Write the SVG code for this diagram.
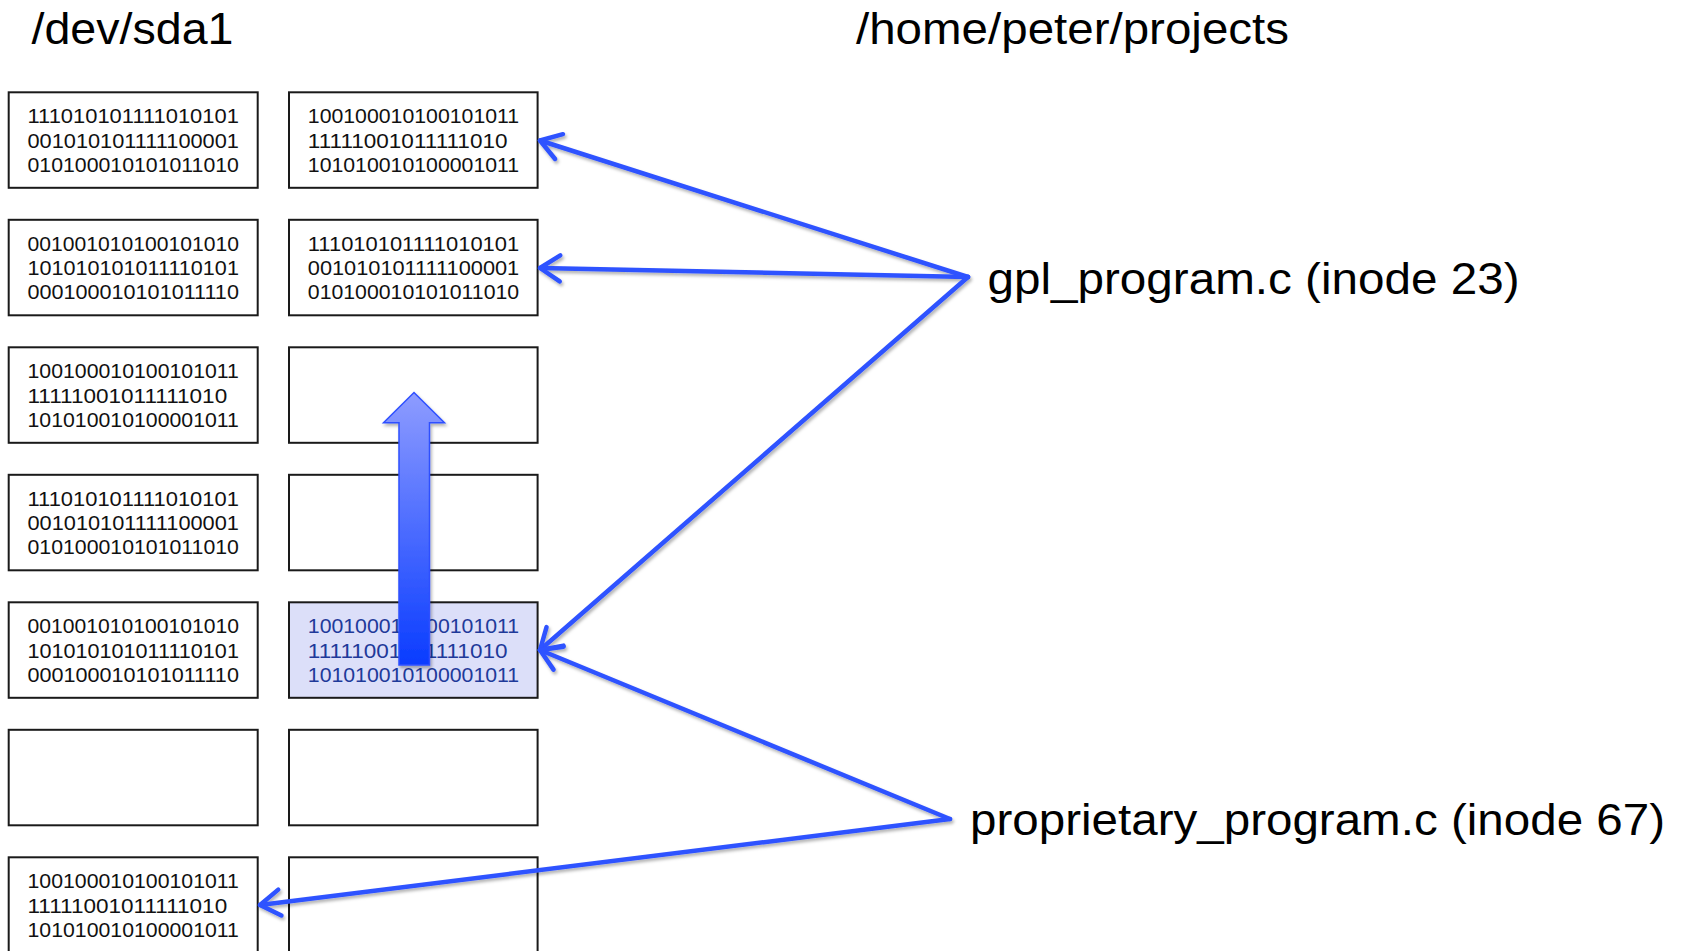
<svg xmlns="http://www.w3.org/2000/svg" width="1685" height="951" viewBox="0 0 1685 951">
  <style>
    .blk { fill: #ffffff; stroke: #1a1a1a; stroke-width: 2; }
    .blk.hot { fill: #dcdff9; }
    .bits { font-family: "Liberation Sans", Arial, sans-serif; font-size: 20.3px; fill: #111111; }
    .bits.hot { fill: #1f3a9a; }
    .title { font-family: "Liberation Sans", Arial, sans-serif; font-size: 44px; fill: #000000; }
    .link { fill: none; stroke: #2f52ff; stroke-width: 4.5; stroke-linecap: round; stroke-linejoin: round; }
  </style>
  <defs>
    <marker id="chevron" markerUnits="userSpaceOnUse" viewBox="-30 -20 40 40" refX="0" refY="0" markerWidth="40" markerHeight="40" orient="auto" overflow="visible">
      <path d="M -20,-13 L 0,0 L -20,13" fill="none" stroke="#2f52ff" stroke-width="4.5" stroke-linecap="round" stroke-linejoin="round"/>
    </marker>
    <filter id="shade" x="-10%" y="-10%" width="130%" height="130%">
      <feDropShadow dx="1.5" dy="2.5" stdDeviation="1.6" flood-color="#000000" flood-opacity="0.3"/>
    </filter>
    <linearGradient id="moveFill" x1="0" y1="0" x2="0" y2="1">
      <stop offset="0" stop-color="#8e9cff"/>
      <stop offset="1" stop-color="#0a3cff"/>
    </linearGradient>
  </defs>

  <rect width="1685" height="951" fill="#ffffff"/>

  <!-- headings -->
  <text class="title" x="31.5" y="44" textLength="202" lengthAdjust="spacingAndGlyphs">/dev/sda1</text>
  <text class="title" x="856" y="44" textLength="433" lengthAdjust="spacingAndGlyphs">/home/peter/projects</text>

  <!-- disk blocks: two columns, seven rows (pitch 127.5); 18-digit lines 211.4 wide, 17-digit 199.7 -->
  <g id="blk-r1-l">
    <rect class="blk" x="8.7" y="92.3" width="249" height="95.5"/>
    <text class="bits" x="27.5" y="123.3" textLength="211.4" lengthAdjust="spacingAndGlyphs">111010101111010101</text>
    <text class="bits" x="27.5" y="147.5" textLength="211.4" lengthAdjust="spacingAndGlyphs">001010101111100001</text>
    <text class="bits" x="27.5" y="171.7" textLength="211.4" lengthAdjust="spacingAndGlyphs">010100010101011010</text>
  </g>
  <g id="blk-r1-r">
    <rect class="blk" x="289" y="92.3" width="248.6" height="95.5"/>
    <text class="bits" x="307.8" y="123.3" textLength="211.4" lengthAdjust="spacingAndGlyphs">100100010100101011</text>
    <text class="bits" x="307.8" y="147.5" textLength="199.7" lengthAdjust="spacingAndGlyphs">11111001011111010</text>
    <text class="bits" x="307.8" y="171.7" textLength="211.4" lengthAdjust="spacingAndGlyphs">101010010100001011</text>
  </g>

  <g id="blk-r2-l">
    <rect class="blk" x="8.7" y="219.8" width="249" height="95.5"/>
    <text class="bits" x="27.5" y="250.8" textLength="211.4" lengthAdjust="spacingAndGlyphs">001001010100101010</text>
    <text class="bits" x="27.5" y="275" textLength="211.4" lengthAdjust="spacingAndGlyphs">101010101011110101</text>
    <text class="bits" x="27.5" y="299.2" textLength="211.4" lengthAdjust="spacingAndGlyphs">000100010101011110</text>
  </g>
  <g id="blk-r2-r">
    <rect class="blk" x="289" y="219.8" width="248.6" height="95.5"/>
    <text class="bits" x="307.8" y="250.8" textLength="211.4" lengthAdjust="spacingAndGlyphs">111010101111010101</text>
    <text class="bits" x="307.8" y="275" textLength="211.4" lengthAdjust="spacingAndGlyphs">001010101111100001</text>
    <text class="bits" x="307.8" y="299.2" textLength="211.4" lengthAdjust="spacingAndGlyphs">010100010101011010</text>
  </g>

  <g id="blk-r3-l">
    <rect class="blk" x="8.7" y="347.3" width="249" height="95.5"/>
    <text class="bits" x="27.5" y="378.3" textLength="211.4" lengthAdjust="spacingAndGlyphs">100100010100101011</text>
    <text class="bits" x="27.5" y="402.5" textLength="199.7" lengthAdjust="spacingAndGlyphs">11111001011111010</text>
    <text class="bits" x="27.5" y="426.7" textLength="211.4" lengthAdjust="spacingAndGlyphs">101010010100001011</text>
  </g>
  <g id="blk-r3-r">
    <rect class="blk" x="289" y="347.3" width="248.6" height="95.5"/>
  </g>

  <g id="blk-r4-l">
    <rect class="blk" x="8.7" y="474.8" width="249" height="95.5"/>
    <text class="bits" x="27.5" y="505.8" textLength="211.4" lengthAdjust="spacingAndGlyphs">111010101111010101</text>
    <text class="bits" x="27.5" y="530" textLength="211.4" lengthAdjust="spacingAndGlyphs">001010101111100001</text>
    <text class="bits" x="27.5" y="554.2" textLength="211.4" lengthAdjust="spacingAndGlyphs">010100010101011010</text>
  </g>
  <g id="blk-r4-r">
    <rect class="blk" x="289" y="474.8" width="248.6" height="95.5"/>
  </g>

  <g id="blk-r5-l">
    <rect class="blk" x="8.7" y="602.3" width="249" height="95.5"/>
    <text class="bits" x="27.5" y="633.3" textLength="211.4" lengthAdjust="spacingAndGlyphs">001001010100101010</text>
    <text class="bits" x="27.5" y="657.5" textLength="211.4" lengthAdjust="spacingAndGlyphs">101010101011110101</text>
    <text class="bits" x="27.5" y="681.7" textLength="211.4" lengthAdjust="spacingAndGlyphs">000100010101011110</text>
  </g>
  <g id="blk-r5-r">
    <rect class="blk hot" x="289" y="602.3" width="248.6" height="95.5"/>
    <text class="bits hot" x="307.8" y="633.3" textLength="211.4" lengthAdjust="spacingAndGlyphs">100100010100101011</text>
    <text class="bits hot" x="307.8" y="657.5" textLength="199.7" lengthAdjust="spacingAndGlyphs">11111001011111010</text>
    <text class="bits hot" x="307.8" y="681.7" textLength="211.4" lengthAdjust="spacingAndGlyphs">101010010100001011</text>
  </g>

  <g id="blk-r6-l">
    <rect class="blk" x="8.7" y="729.8" width="249" height="95.5"/>
  </g>
  <g id="blk-r6-r">
    <rect class="blk" x="289" y="729.8" width="248.6" height="95.5"/>
  </g>

  <g id="blk-r7-l">
    <rect class="blk" x="8.7" y="857.3" width="249" height="95.5"/>
    <text class="bits" x="27.5" y="888.3" textLength="211.4" lengthAdjust="spacingAndGlyphs">100100010100101011</text>
    <text class="bits" x="27.5" y="912.5" textLength="199.7" lengthAdjust="spacingAndGlyphs">11111001011111010</text>
    <text class="bits" x="27.5" y="936.7" textLength="211.4" lengthAdjust="spacingAndGlyphs">101010010100001011</text>
  </g>
  <g id="blk-r7-r">
    <rect class="blk" x="289" y="857.3" width="248.6" height="95.5"/>
  </g>

  <!-- block relocation arrow -->
  <g id="move-arrow" filter="url(#shade)">
    <polygon points="414,392.5 444.5,422.7 429.5,422.7 429.5,665 399,665 399,422.7 383.5,422.7"
             fill="url(#moveFill)" stroke="#2f50ff" stroke-width="1.5" stroke-linejoin="miter"/>
  </g>

  <!-- file labels -->
  <g id="file-gpl">
    <text class="title" x="987.5" y="293.5" textLength="532" lengthAdjust="spacingAndGlyphs">gpl_program.c (inode 23)</text>
  </g>
  <g id="file-proprietary">
    <text class="title" x="970" y="835" textLength="695" lengthAdjust="spacingAndGlyphs">proprietary_program.c (inode 67)</text>
  </g>

  <!-- inode block pointers -->
  <g id="connectors" filter="url(#shade)">
    <line class="link" x1="968" y1="277" x2="540" y2="140.5" marker-end="url(#chevron)"/>
    <line class="link" x1="968" y1="277" x2="540" y2="268" marker-end="url(#chevron)"/>
    <line class="link" x1="968" y1="277" x2="540" y2="650" marker-end="url(#chevron)"/>
    <line class="link" x1="950" y1="819" x2="540" y2="650" marker-end="url(#chevron)"/>
    <line class="link" x1="950" y1="819" x2="260" y2="905" marker-end="url(#chevron)"/>
  </g>
</svg>
